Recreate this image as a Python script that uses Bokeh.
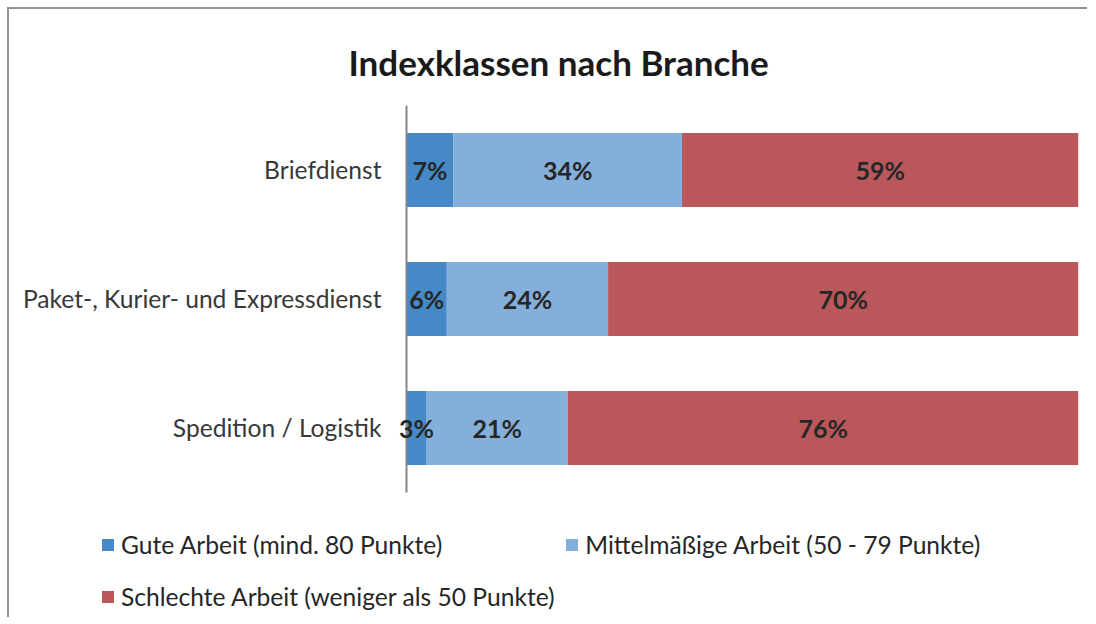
from bokeh.plotting import figure
from bokeh.models import (ColumnDataSource, Range1d, Legend, LegendItem, LabelSet,
                          FixedTicker)
from bokeh.core.properties import value
from bokeh.embed import file_html
from bokeh.resources import INLINE

# ---- data ----
branches = ["Briefdienst", "Paket-, Kurier- und Expressdienst", "Spedition / Logistik"]
gute = [7, 6, 3]
mittel = [34, 24, 21]
schlecht = [59, 70, 76]
series_names = ["Gute Arbeit (mind. 80 Punkte)",
                "Mittelmäßige Arbeit (50 - 79 Punkte)",
                "Schlechte Arbeit (weniger als 50 Punkte)"]
colors = ["#4589c6", "#84afda", "#b9575a"]
title_text = "Indexklassen nach Branche"

FONT = "Lato"
n = len(branches)
ypos = [n - 0.5 - i for i in range(n)]   # Briefdienst on top

p = figure(width=1080, height=610, output_backend="svg", toolbar_location=None,
           x_range=Range1d(-47.02, 100), y_range=Range1d(-0.9845, n),
           x_axis_location=None,
           min_border_left=81, min_border_right=11, min_border_top=96, min_border_bottom=0)
p.styles = {"margin-left": "7px", "margin-top": "7px",
            "border-top": "2px solid #8e9696", "border-left": "2px solid #8e9696"}

keys = ["gute", "mittel", "schlecht"]
src = ColumnDataSource(dict(y=ypos, gute=gute, mittel=mittel, schlecht=schlecht))
renderers = p.hbar_stack(keys, y="y", height=0.575, color=colors, line_color=None, source=src)

# category axis line at the bars' zero baseline
p.segment(x0=[0], y0=[0], x1=[0], y1=[n], line_color="#868686", line_width=2)

# labels at segment centers
lx, ly, lt = [], [], []
for i in range(n):
    start = 0
    for vals in (gute, mittel, schlecht):
        v = vals[i]
        lx.append(start + v / 2)
        ly.append(ypos[i])
        lt.append(f"{v}%")
        start += v
lsrc = ColumnDataSource(dict(x=lx, y=ly, t=lt))
p.add_layout(LabelSet(x="x", y="y", text="t", source=lsrc, text_align="center",
                      text_baseline="middle", text_font=value(FONT), text_font_style="bold",
                      text_font_size="25px", text_color="#262626"))

p.title.text = title_text
p.title.align = "left"
p.title.vertical_align = "top"
p.title.text_font = FONT
p.title.text_font_style = "bold"
p.title.text_font_size = "35px"
p.title.text_color = "#1a1a1a"
p.title.offset = 258
p.title.standoff = 42

p.xgrid.visible = False
p.ygrid.visible = False
p.outline_line_color = None
ya = p.yaxis[0]
ya.ticker = FixedTicker(ticks=ypos)
ya.major_label_overrides = {y: b for y, b in zip(ypos, branches)}
ya.axis_line_color = None
ya.major_tick_line_color = None
ya.minor_tick_line_color = None
ya.major_label_text_font = FONT
ya.major_label_text_font_size = "24.6px"
ya.major_label_text_color = "#383838"
ya.major_label_standoff = -297

def mk_legend(items, loc, spacing):
    lg = Legend(items=items, location=loc, orientation="horizontal", spacing=spacing,
                padding=0, margin=0, border_line_color=None, background_fill_alpha=0,
                glyph_width=15, glyph_height=15, label_standoff=6,
                label_text_font=FONT, label_text_font_size="24.6px", label_text_color="#262626")
    p.add_layout(lg, "center")
    return lg

mk_legend([LegendItem(label=series_names[0], renderers=[renderers[0]]),
           LegendItem(label=series_names[1], renderers=[renderers[1]])], (10, 60), 122)
mk_legend([LegendItem(label=series_names[2], renderers=[renderers[2]])], (10, 8), 0)

open("out.html", "w").write(file_html(p, INLINE))
